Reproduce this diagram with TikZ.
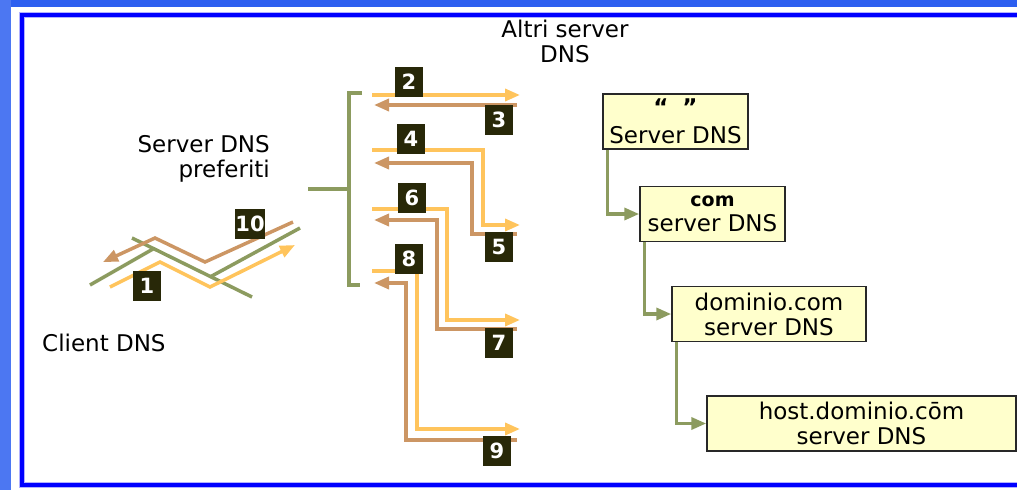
\documentclass[tikz,border=0pt]{standalone}
\usepackage{fontspec}
\setmainfont{DejaVu Sans}
\usetikzlibrary{arrows.meta,positioning}
\definecolor{askcol}{RGB}{255,196,92}
\definecolor{replycol}{RGB}{204,150,100}
\definecolor{netcol}{RGB}{140,155,95}
\definecolor{numfill}{RGB}{40,40,8}
\definecolor{boxfill}{RGB}{255,255,204}
\definecolor{boxline}{RGB}{40,40,40}
\definecolor{slideblue}{RGB}{45,95,240}
\definecolor{framecol}{RGB}{0,0,255}

\begin{document}
\begin{tikzpicture}[x=1pt, y=-1pt, on grid,
  font=\fontsize{23}{25}\selectfont,
  ask/.style={draw=askcol, line width=3.5pt, -{Triangle[length=15pt,width=12pt]}},
  reply/.style={draw=replycol, line width=3.5pt, -{Triangle[length=15pt,width=12pt]}},
  net/.style={draw=netcol, line width=3.5pt},
  tree/.style={draw=netcol, line width=3.5pt, -{Triangle[length=15pt,width=12pt]}},
  dnsbox/.style={draw=boxline, fill=boxfill, line width=1.5pt, align=center,
    minimum height=55pt, inner sep=2pt},
  num/.style={fill=numfill, text=white, font=\fontsize{21}{21}\selectfont\bfseries,
    minimum width=28pt, minimum height=30pt, inner sep=1pt},
  plain/.style={inner sep=0pt}]
\useasboundingbox (0,0) rectangle (1017,490);
\fill [slideblue] (0,0) rectangle (1017,7);
\fill [slideblue!85] (0,0) rectangle (11,490);
\draw [framecol!30, line width=6pt] (22,15) rectangle (1040,485);
\draw [framecol, line width=3.5pt] (22,15) rectangle (1040,485);

\node [plain, align=center] (altri) at (565,41) {Altri server\\DNS};
\node [plain, align=right, anchor=east] (pref) at (270,159) {Server DNS\\preferiti};
\node [plain, anchor=west] (client) at (42,343) {Client DNS};

\node [dnsbox, minimum width=145pt] (root) at (675.5,121.5)
  {{\bfseries “\hspace{14pt}”}\\[3pt]Server DNS};
\node [dnsbox, minimum width=145pt] (com) [below right=92.5pt and 37pt of root]
  {{\fontsize{19}{25}\selectfont\bfseries com}\\server DNS};
\node [dnsbox, minimum width=194pt] (dom) [below right=100pt and 56.5pt of com]
  {dominio.com\\server DNS};
\node [dnsbox, minimum width=309pt] (host) [below right=109.5pt and 92.5pt of dom]
  {host.dominio.cōm\\server DNS};
\draw [tree] ([xshift=5pt]root.south west) |- (com.west);
\draw [tree] ([xshift=5pt]com.south west) |- (dom.west);
\draw [tree] ([xshift=5pt]dom.south west) |- (host.west);

\draw [net] (362,93) -- (349,93) -- (349,285) -- (360,285);
\draw [net] (308,189) -- (349,189);

\draw [net] (90,285) -- (153,249);
\draw [net] (132,238) -- (252,297);
\draw [net] (210,277) -- (300,228);
\draw [ask] (110,287) -- (160,262) -- (210,287) -- (295,245);
\draw [reply] (293,222) -- (205,262) -- (155,238) -- (103,262);

\draw [ask] (372,95) -- (520,95);
\draw [reply] (517,105) -- (374,105);
\draw [ask] (372,150) -| (483,225) -- (520,225);
\draw [reply] (517,234) -| (472,163) -- (374,163);
\draw [ask] (372,209) -| (447,320) -- (520,320);
\draw [reply] (517,329) -| (437,220) -- (374,220);
\draw [ask] (372,271) -| (417,429) -- (520,429);
\draw [reply] (517,440) -| (406,283) -- (374,283);

\node [num] (n1) at (147,286) {1};
\node [num] (n2) at (409,82) {2};
\node [num] (n3) at (499,120) {3};
\node [num] (n4) at (411,139) {4};
\node [num] (n5) at (499,247) {5};
\node [num] (n6) at (412,198) {6};
\node [num] (n7) at (499,343) {7};
\node [num] (n8) at (409,259) {8};
\node [num] (n9) at (497,451) {9};
\node [num, inner sep=0pt] (n10) at (250,224) {10};
\end{tikzpicture}
\end{document}
